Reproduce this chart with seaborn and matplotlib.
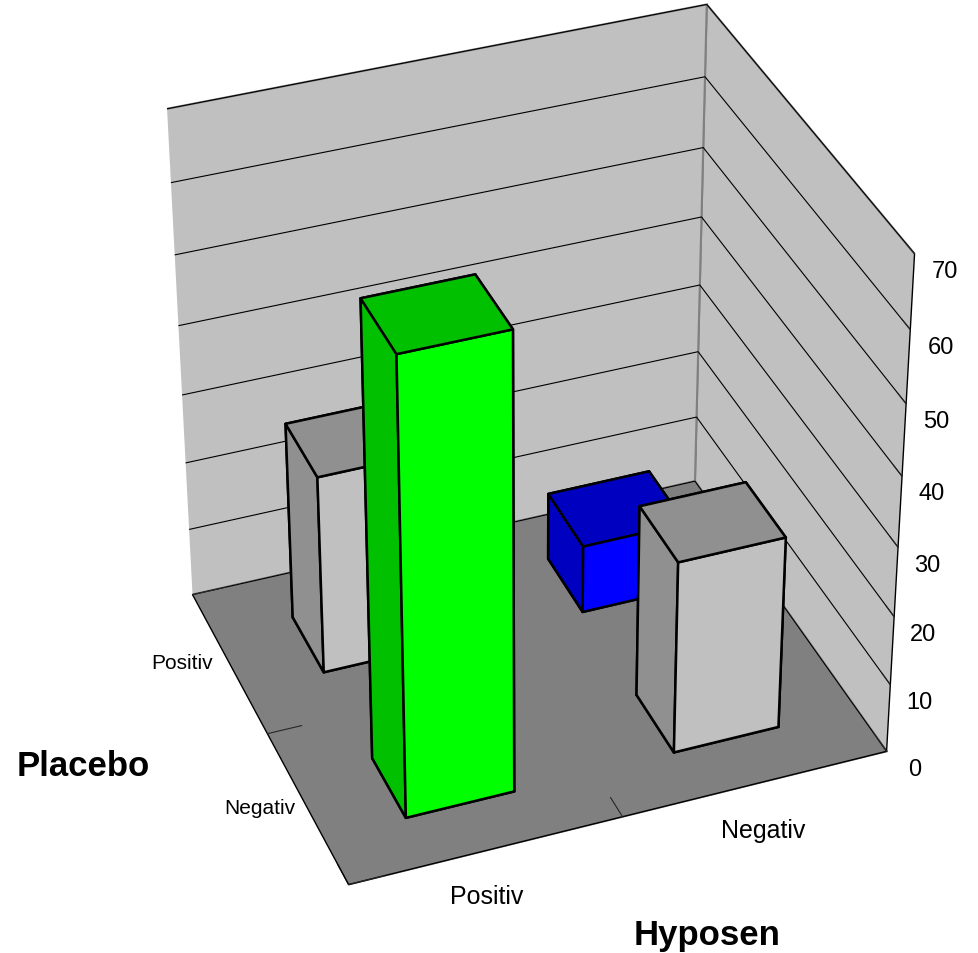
import matplotlib
matplotlib.use("Agg")
import matplotlib.pyplot as plt
import numpy as np
import seaborn as sns
from mpl_toolkits.mplot3d import proj3d

# Cross-tabulated counts: each bar is one (Hyposen, Placebo) cell
hyposen_levels = ["Positiv", "Negativ"]          # left -> right
placebo_levels = ["Negativ", "Positiv"]          # front -> back
bar_hyposen = ["Positiv", "Positiv", "Negativ", "Negativ"]
bar_placebo = ["Positiv", "Negativ", "Positiv", "Negativ"]
bar_values = [29, 65, 10, 28]
z_ticks = [0, 10, 20, 30, 40, 50, 60, 70]

# face colours: lit front face and darker top / side faces
front_colors = ["#c0c0c0", "#00ff00", "#0000ff", "#c0c0c0"]
side_colors = ["#909090", "#00c000", "#0000c0", "#909090"]

sns.set_style("white")
plt.rcParams["font.family"] = ["Liberation Sans", "DejaVu Sans"]
plt.rcParams["text.color"] = "black"

fig = plt.figure(figsize=(9.79, 9.54), dpi=100)
ax = fig.add_axes([0.03, 0.03, 1.0, 1.0], projection="3d",
                  proj_type="persp", focal_length=0.9)
ax.view_init(elev=35, azim=-111)
ax.set_box_aspect((1.03, 0.9, 1.07), zoom=0.99)

bar_w = 0.4
for h, p, v, fc, sc in zip(bar_hyposen, bar_placebo, bar_values,
                           front_colors, side_colors):
    xi = hyposen_levels.index(h)
    yi = placebo_levels.index(p)
    # face order: -z, +z, -y, +y, -x, +x
    faces = [sc, sc, fc, fc, sc, sc]
    ax.bar3d(xi + (1 - bar_w) / 2, yi + (1 - bar_w) / 2, 0,
             bar_w, bar_w, v, color=faces, edgecolor="black",
             linewidth=1.8, shade=False)

ax.set_xlim(0, 2)
ax.set_ylim(0, 2)
ax.set_zlim(0, 70)

ax.set_xticks([0, 1, 2])
ax.set_yticks([0, 1, 2])
ax.set_xticklabels([])
ax.set_yticklabels([])
ax.set_zticks(z_ticks)
ax.set_zticklabels([str(t) for t in z_ticks], fontsize=17, color="black")
ax.zaxis.set_ticks_position("lower")
ax.zaxis.set_label_position("lower")
ax.tick_params(axis="z", pad=6)

# walls and floor
ax.xaxis.set_pane_color("#c0c0c0")
ax.yaxis.set_pane_color("#c0c0c0")
ax.zaxis.set_pane_color("#808080")
for axis in (ax.xaxis, ax.yaxis, ax.zaxis):
    axis.pane.set_edgecolor("#808080")
    axis.pane.set_linewidth(1.5)
    axis.line.set_color("black")
    axis.line.set_linewidth(1.0)
    axis._axinfo["tick"]["inward_factor"] = 0.0
    axis._axinfo["tick"]["outward_factor"] = 0.8
    axis._axinfo["tick"]["color"] = "black"
ax.zaxis._axinfo["tick"]["outward_factor"] = 0.5

ax.grid(True)
ax.xaxis._axinfo["grid"]["color"] = (0, 0, 0, 0)
ax.yaxis._axinfo["grid"]["color"] = (0, 0, 0, 0)
ax.zaxis._axinfo["grid"]["color"] = "black"
ax.zaxis._axinfo["grid"]["linewidth"] = 0.8

# category labels anchored at the middle of each floor-edge cell
M = ax.get_proj()
for i, lab in enumerate(hyposen_levels):
    xp, yp, _ = proj3d.proj_transform(i + 0.5, 0, 0, M)
    ax.annotate(lab, (xp, yp), xytext=(5 * i, -33), textcoords="offset points",
                fontsize=18, ha="center", va="center")
for i, lab in enumerate(placebo_levels):
    xp, yp, _ = proj3d.proj_transform(0, i + 0.5, 0, M)
    ax.annotate(lab, (xp, yp), xytext=(-34, 0), textcoords="offset points",
                fontsize=15, ha="center", va="center")

fig.text(83 / 979, 1 - 767 / 954, "Placebo", fontsize=25,
         fontweight="bold", ha="center", va="center")
fig.text(707 / 979, 1 - 936 / 954, "Hyposen", fontsize=25,
         fontweight="bold", ha="center", va="center")

fig.savefig("out.png", dpi=100)
